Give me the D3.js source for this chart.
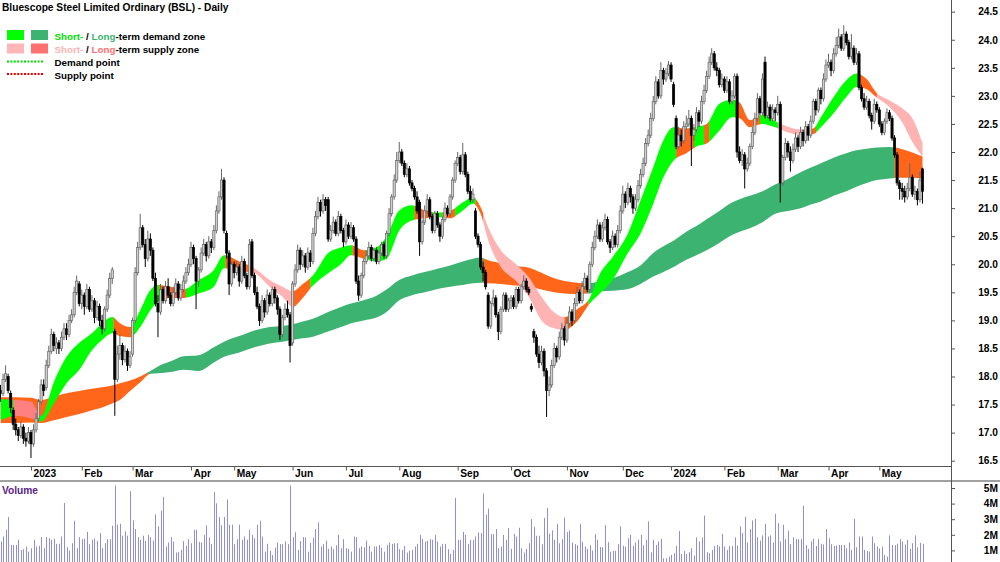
<!DOCTYPE html>
<html><head><meta charset="utf-8">
<script src="https://cdn.jsdelivr.net/npm/d3@7"></script>
<style>
html,body{margin:0;padding:0;background:#fff;}
svg{display:block;font-family:"Liberation Sans",Arial,sans-serif;}
</style></head><body>
<svg id="c" width="1000" height="562"></svg>
<script>
// ---------- DATA ----------
const title = "Bluescope Steel Limited Ordinary (BSL) - Daily";
// month tick labels and the trading-day index where each month starts
const tickLabels = ["2023","Feb","Mar","Apr","May","Jun","Jul","Aug","Sep","Oct","Nov","Dec","2024","Feb","Mar","Apr","May"];
const tickIndex  = [12,32,52,75,92,115,136,157,180,201,223,245,264,285,306,326,346];
const priceTicks = [16.5,17,17.5,18,18.5,19,19.5,20,20.5,21,21.5,22,22.5,23,23.5,24,24.5];
const volTicks = [1,2,3,4,5]; // millions

const open=[
17.75,17.70,17.95,18.00,17.70,17.40,17.15,17.05,16.95,17.10,
16.90,16.85,17.00,16.80,17.05,17.25,17.55,17.85,17.80,18.20,
18.45,18.75,18.50,18.60,18.50,18.70,18.85,18.75,19.00,19.10,
19.50,19.65,19.30,19.45,19.25,19.55,19.20,19.35,19.05,19.25,
19.00,18.85,19.20,19.45,19.75,18.80,17.95,18.40,18.55,18.30,
18.45,18.20,18.40,19.00,19.85,20.30,20.65,20.35,20.10,20.45,
20.25,19.75,19.30,19.15,19.55,19.35,19.60,19.45,19.30,19.50,
19.65,19.40,19.55,19.70,19.85,20.00,20.30,20.10,19.70,19.90,
20.20,20.35,20.15,20.40,20.30,20.60,20.95,21.20,21.50,20.55,
20.20,19.65,20.00,19.85,19.95,19.70,20.05,19.80,19.60,20.40,
19.80,19.50,19.25,19.00,19.35,19.15,19.45,19.30,19.55,19.40,
19.20,18.75,19.05,19.20,19.10,18.60,19.65,19.90,20.25,20.00,
20.15,19.95,20.20,20.05,20.55,20.85,21.10,20.95,21.15,21.15,
20.45,20.60,20.75,20.55,20.85,20.60,20.40,20.70,20.50,20.65,
20.45,19.70,19.45,19.80,20.05,20.15,20.30,20.10,20.25,20.05,
20.20,20.35,20.15,20.55,20.90,21.20,21.50,21.85,22.00,21.80,
21.60,21.70,21.45,21.35,21.20,21.10,20.40,20.75,20.95,21.15,
20.85,20.60,20.90,20.70,20.50,20.80,21.00,20.90,21.20,21.50,
21.80,21.90,21.65,21.95,21.60,21.30,21.15,20.95,20.50,20.35,
19.95,19.85,19.45,18.90,19.30,19.40,19.10,18.80,19.20,19.45,
19.20,19.35,19.40,19.25,19.55,19.35,19.60,19.70,19.55,19.25,
18.80,18.70,18.40,18.25,18.45,18.10,17.75,17.85,18.20,18.50,
18.35,18.70,18.85,18.65,18.95,19.15,19.00,19.30,19.50,19.35,
19.60,19.75,19.55,20.00,20.30,20.50,20.70,20.45,20.65,20.80,
20.40,20.30,20.50,20.35,20.60,20.95,21.25,21.10,21.35,21.20,
21.00,21.15,21.40,21.60,21.80,22.15,22.30,22.60,22.90,23.25,
23.00,23.45,23.30,23.40,23.55,23.20,22.60,22.10,22.30,22.20,
22.45,22.50,22.60,22.30,22.40,22.70,22.55,22.90,23.10,23.35,
23.60,23.75,23.50,23.45,23.20,23.30,23.10,23.25,22.90,23.00,
23.35,22.00,21.85,21.95,21.70,21.80,22.10,22.35,22.60,22.95,
22.70,23.60,22.65,22.80,22.60,22.75,22.70,22.85,21.45,21.90,
22.15,22.00,21.85,22.05,22.25,22.10,22.35,22.20,22.45,22.30,
22.55,22.90,22.75,23.10,22.95,23.30,23.55,23.60,23.45,23.75,
23.90,24.05,23.85,24.10,23.95,23.70,23.85,23.60,23.75,23.15,
22.95,22.80,22.90,22.65,22.55,22.85,22.75,22.50,22.35,22.55,
22.70,22.60,22.25,21.95,21.45,21.35,21.30,21.20,21.35,21.55,
21.25,21.30,21.15,21.70];
const high=[
17.85,18.05,18.20,18.05,17.75,17.45,17.25,17.10,17.20,17.15,
17.00,17.10,17.05,17.15,17.35,17.60,17.95,17.95,18.30,18.55,
18.85,18.80,18.70,18.65,18.80,18.95,18.95,19.10,19.20,19.60,
19.80,19.70,19.55,19.50,19.65,19.60,19.45,19.40,19.35,19.30,
19.10,19.25,19.55,19.85,19.95,18.85,18.55,18.75,18.60,18.55,
18.50,18.45,19.05,19.95,20.40,20.90,20.70,20.45,20.60,20.55,
20.30,19.85,19.45,19.65,19.60,19.70,19.75,19.50,19.60,19.75,
19.70,19.65,19.80,19.95,20.10,20.40,20.35,20.15,19.95,20.30,
20.45,20.40,20.50,20.45,20.70,21.05,21.30,21.70,21.55,20.60,
20.25,20.05,20.05,20.05,20.00,20.15,20.10,19.85,20.45,20.45,
19.85,19.60,19.30,19.45,19.40,19.55,19.50,19.60,19.60,19.45,
19.25,19.10,19.30,19.35,19.15,19.70,20.00,20.35,20.30,20.25,
20.20,20.30,20.25,20.65,20.95,21.20,21.15,21.25,21.20,21.20,
20.70,20.85,20.80,20.95,20.90,20.65,20.80,20.75,20.75,20.70,
20.50,19.80,19.85,20.10,20.25,20.40,20.35,20.30,20.30,20.25,
20.40,20.40,20.60,21.00,21.25,21.60,22.00,22.18,22.05,21.85,
21.80,21.75,21.50,21.40,21.30,21.15,20.80,21.05,21.25,21.20,
20.90,20.95,20.95,20.75,20.85,21.10,21.05,21.25,21.55,21.85,
22.00,21.95,22.16,22.00,21.65,21.40,21.35,21.00,20.55,20.40,
20.05,19.90,19.50,19.35,19.55,19.45,19.15,19.25,19.50,19.50,
19.40,19.45,19.45,19.60,19.60,19.65,19.80,19.75,19.60,19.30,
18.85,18.75,18.55,18.55,18.50,18.15,18.00,18.30,18.60,18.55,
18.80,18.95,18.90,19.05,19.25,19.20,19.40,19.60,19.55,19.70,
19.85,19.80,20.05,20.40,20.60,20.80,20.75,20.75,20.90,20.85,
20.45,20.60,20.55,20.70,21.05,21.40,21.30,21.45,21.40,21.25,
21.25,21.50,21.70,21.90,22.25,22.40,22.70,23.00,23.35,23.30,
23.60,23.50,23.50,23.62,23.60,23.25,22.65,22.45,22.40,22.55,
22.65,22.75,22.65,22.50,22.80,22.75,23.00,23.20,23.45,23.70,
23.85,23.80,23.60,23.50,23.40,23.35,23.35,23.30,23.10,23.40,
23.40,22.10,22.05,22.00,21.90,22.15,22.45,22.70,23.05,23.00,
23.40,23.70,22.90,22.85,22.85,22.80,23.00,22.90,21.95,22.25,
22.20,22.10,22.15,22.35,22.30,22.45,22.40,22.55,22.50,22.65,
22.95,22.95,23.15,23.15,23.40,23.65,23.75,23.65,23.85,24.05,
24.20,24.10,24.26,24.15,24.00,24.10,23.90,23.85,23.80,23.20,
23.05,23.00,22.95,22.70,22.95,22.90,22.80,22.55,22.60,22.78,
22.75,22.65,22.30,22.00,21.50,21.45,21.40,21.45,21.80,21.60,
21.40,21.35,21.65,21.72];
const low=[
17.55,17.65,17.90,17.70,17.35,17.05,16.95,16.85,16.90,16.80,
16.75,16.80,16.55,16.75,17.00,17.20,17.50,17.65,17.75,18.15,
18.40,18.45,18.40,18.40,18.45,18.65,18.65,18.70,18.95,19.05,
19.45,19.25,19.20,19.10,19.20,19.15,19.15,18.95,19.00,18.90,
18.75,18.80,19.15,19.40,19.65,17.30,17.90,18.30,18.20,18.25,
18.10,18.15,18.35,18.95,19.80,20.25,20.30,19.95,20.05,20.15,
19.70,19.25,18.70,19.10,19.30,19.30,19.40,19.25,19.25,19.45,
19.35,19.35,19.50,19.65,19.80,19.95,20.00,19.20,19.60,19.85,
20.15,20.05,20.10,20.20,20.25,20.55,20.90,21.15,20.55,20.10,
19.45,19.60,19.75,19.80,19.60,19.65,19.75,19.55,19.55,19.75,
19.45,19.20,18.90,18.95,19.05,19.10,19.25,19.25,19.30,19.10,
18.65,18.70,19.00,19.05,18.25,18.55,19.60,19.85,19.90,19.95,
19.85,19.90,19.95,20.00,20.50,20.80,20.85,20.90,20.95,20.40,
20.40,20.55,20.50,20.50,20.55,20.30,20.35,20.45,20.45,20.40,
19.65,19.35,19.40,19.75,20.00,20.10,20.05,20.05,20.00,20.00,
20.15,20.10,20.10,20.50,20.85,21.15,21.45,21.80,21.75,21.55,
21.55,21.40,21.30,21.15,20.90,20.15,20.35,20.70,20.90,20.80,
20.55,20.55,20.65,20.40,20.45,20.75,20.85,20.85,21.15,21.45,
21.75,21.60,21.60,21.55,21.25,21.10,21.10,20.45,20.30,19.90,
19.70,19.55,18.85,18.85,19.25,19.05,18.65,18.75,19.15,19.15,
19.15,19.20,19.20,19.20,19.30,19.30,19.55,19.50,19.45,19.15,
18.60,18.35,18.15,18.20,18.00,17.28,17.65,17.80,18.15,18.25,
18.30,18.65,18.55,18.60,18.90,18.90,18.95,19.25,19.30,19.30,
19.55,19.50,19.50,19.95,20.25,20.45,20.40,20.40,20.60,20.35,
20.20,20.25,20.30,20.30,20.55,20.90,21.00,21.05,21.10,20.90,
20.95,21.10,21.35,21.55,21.75,22.10,22.25,22.55,22.85,22.95,
22.95,23.20,23.25,23.35,23.25,22.80,22.05,22.05,22.10,22.15,
22.40,22.45,21.75,22.20,22.35,22.45,22.50,22.85,23.05,23.30,
23.55,23.45,23.35,23.15,23.15,23.05,23.05,22.85,22.85,22.95,
21.90,21.80,21.75,21.35,21.65,21.75,22.05,22.30,22.55,22.65,
22.65,22.60,22.60,22.55,22.55,22.55,22.65,21.10,21.40,21.85,
21.90,21.65,21.80,22.00,22.00,22.05,22.10,22.15,22.20,22.25,
22.50,22.65,22.70,22.85,22.90,23.25,23.50,23.35,23.40,23.70,
23.85,23.80,23.80,23.90,23.65,23.65,23.55,23.55,23.10,22.90,
22.75,22.75,22.60,22.40,22.50,22.70,22.45,22.30,22.30,22.50,
22.55,22.20,21.90,21.40,21.15,21.15,21.10,21.15,21.30,21.20,
21.15,21.05,21.10,21.08];
const close=[
17.70,17.95,18.05,17.75,17.45,17.15,17.05,16.95,17.10,16.90,
16.85,17.00,16.80,17.05,17.25,17.55,17.85,17.75,18.20,18.45,
18.75,18.55,18.60,18.50,18.70,18.85,18.75,19.00,19.10,19.50,
19.70,19.30,19.45,19.25,19.55,19.20,19.35,19.05,19.25,19.00,
18.85,19.20,19.45,19.75,19.90,17.95,18.40,18.55,18.30,18.45,
18.20,18.35,19.00,19.85,20.30,20.65,20.35,20.10,20.45,20.25,
19.75,19.30,19.15,19.55,19.35,19.60,19.45,19.30,19.50,19.65,
19.40,19.55,19.70,19.85,20.00,20.30,20.10,19.70,19.90,20.20,
20.35,20.15,20.40,20.30,20.60,20.95,21.20,21.50,20.60,20.20,
19.65,20.00,19.85,19.95,19.70,20.05,19.80,19.60,20.35,19.80,
19.50,19.25,19.00,19.35,19.15,19.45,19.30,19.55,19.40,19.20,
18.75,19.05,19.20,19.10,18.55,19.65,19.90,20.25,20.00,20.15,
19.95,20.20,20.05,20.55,20.85,21.10,20.95,21.15,21.05,20.45,
20.60,20.75,20.55,20.85,20.60,20.40,20.70,20.50,20.65,20.45,
19.70,19.45,19.80,20.05,20.15,20.30,20.10,20.25,20.05,20.20,
20.35,20.15,20.55,20.90,21.20,21.50,21.85,22.00,21.80,21.60,
21.70,21.45,21.35,21.20,20.95,20.40,20.75,20.95,21.15,20.85,
20.60,20.90,20.70,20.50,20.80,21.00,20.90,21.20,21.50,21.80,
21.90,21.65,21.95,21.60,21.30,21.15,21.25,20.50,20.35,19.95,
19.85,19.60,18.90,19.30,19.40,19.10,18.80,19.20,19.45,19.20,
19.35,19.40,19.25,19.55,19.35,19.60,19.70,19.55,19.50,19.20,
18.70,18.40,18.25,18.45,18.10,17.75,17.85,18.20,18.50,18.35,
18.70,18.85,18.65,18.95,19.15,19.00,19.30,19.50,19.35,19.60,
19.75,19.55,20.00,20.30,20.50,20.70,20.45,20.65,20.80,20.40,
20.30,20.50,20.35,20.60,20.95,21.25,21.10,21.35,21.20,21.00,
21.15,21.40,21.60,21.80,22.15,22.30,22.60,22.90,23.25,23.00,
23.45,23.30,23.40,23.55,23.30,22.85,22.10,22.30,22.20,22.45,
22.50,22.60,22.30,22.40,22.70,22.55,22.90,23.10,23.35,23.60,
23.75,23.50,23.45,23.20,23.30,23.10,23.25,22.90,23.00,23.35,
22.00,21.85,21.95,21.70,21.80,22.10,22.35,22.60,22.95,22.70,
23.30,22.65,22.80,22.60,22.75,22.70,22.85,21.45,21.90,22.15,
22.00,21.85,22.05,22.25,22.10,22.35,22.20,22.45,22.30,22.55,
22.90,22.75,23.10,22.95,23.30,23.55,23.60,23.45,23.75,23.90,
24.05,23.85,24.10,23.95,23.70,23.85,23.60,23.75,23.15,22.95,
22.80,22.90,22.65,22.55,22.85,22.75,22.50,22.35,22.55,22.70,
22.60,22.25,21.95,21.45,21.35,21.30,21.20,21.35,21.55,21.25,
21.30,21.15,21.50,21.30];
// volume in millions of shares
const volume=[
1.57,1.89,2.32,3.14,1.35,1.35,1.35,1.68,1.03,1.08,
1.25,0.92,1.14,1.68,1.25,1.29,1.85,1.14,1.85,1.78,
1.68,1.74,1.42,1.42,1.89,4.04,1.20,0.99,1.46,2.90,
1.14,1.85,1.72,1.76,2.19,1.40,1.68,1.76,1.61,2.11,
1.14,1.46,1.72,1.72,2.58,5.16,2.65,2.71,1.94,2.22,
1.94,4.80,2.92,2.37,1.85,1.68,1.94,1.61,2.00,1.85,
1.63,3.31,2.54,3.55,4.43,1.25,1.51,1.85,1.57,0.86,
0.88,1.03,1.59,1.29,1.72,1.46,2.32,2.32,1.55,1.51,
2.00,2.60,1.83,1.42,4.74,4.02,3.14,2.62,3.14,4.26,
2.65,2.65,1.40,1.72,2.65,1.68,1.89,1.68,2.32,2.00,
1.78,2.65,2.90,1.89,0.92,1.42,0.97,0.71,1.18,1.51,
1.40,1.40,1.57,1.40,5.16,1.85,2.17,1.03,1.59,1.85,
1.83,0.92,1.48,1.81,2.37,2.80,1.25,1.40,1.63,1.10,
1.25,1.08,1.33,2.00,1.14,1.72,1.14,1.10,0.92,1.89,
1.85,1.14,1.25,1.20,1.63,1.29,0.92,1.25,1.25,1.35,
1.18,0.92,1.35,1.51,1.42,1.46,1.46,1.08,1.03,1.29,
0.86,0.99,1.03,1.25,1.42,2.00,1.72,1.57,1.63,1.72,
1.68,2.00,1.57,1.25,1.42,1.42,1.08,0.77,1.03,4.37,
1.68,1.68,2.19,2.00,1.42,1.68,1.68,1.89,2.15,2.11,
4.65,3.29,3.68,2.04,2.04,2.37,1.14,
1.25,2.00,1.68,2.43,1.10,2.06,1.89,2.45,1.14,0.86,
1.08,1.46,3.01,2.49,1.94,1.94,1.40,3.08,3.72,2.06,
2.28,1.68,2.69,1.46,1.72,3.10,2.17,2.28,1.51,1.40,
1.33,2.69,1.55,1.25,1.08,1.33,0.99,2.04,1.68,1.22,
1.20,2.62,1.53,0.92,0.97,0.97,1.40,2.54,1.29,1.25,
1.78,2.00,1.29,1.51,1.68,2.00,1.33,1.68,2.86,0.88,
1.68,1.35,1.57,1.74,0.49,0.49,0.60,0.71,0.82,1.29,
2.24,0.77,0.97,0.77,0.88,1.14,0.67,1.83,1.57,1.83,
3.23,0.88,0.82,1.03,1.29,1.35,1.25,2.06,1.25,1.03,
1.29,1.29,1.83,1.31,2.54,2.11,3.16,1.51,2.37,2.92,
3.03,1.85,1.63,1.96,2.71,1.89,1.96,1.51,3.34,2.75,
1.57,2.65,1.72,2.26,1.40,1.83,1.72,1.72,1.72,3.87,
1.35,1.10,1.57,1.74,1.29,1.72,1.42,1.38,2.37,1.78,
1.40,1.29,1.31,1.35,1.35,1.35,1.14,1.51,1.03,3.03,
1.20,1.89,1.89,1.03,0.97,0.92,1.89,1.46,1.25,1.12,
1.25,0.71,0.60,1.96,1.35,1.33,1.42,1.72,1.57,1.38,
1.68,1.10,1.46,1.96,1.20,1.48,1.42];

// zone bands, sampled at these trading-day indices
const bandIdx=[0,6,12,16,21,26,31,36,40,44,47,51,55,59,62,67,72,78,84,88,94,100,106,111,115,119,123,129,134,138,143,148,152,157,162,167,172,177,182,186,189,192,197,203,208,213,218,222,227,232,236,241,247,252,257,261,265,270,274,278,283,288,291,295,300,305,310,315,320,323,328,333,337,341,345,350,355,359,363];
const shortUpper=[17.60,17.58,17.55,17.30,17.90,18.35,18.60,18.77,18.95,19.06,
18.95,18.88,19.18,19.54,19.63,19.60,19.55,19.72,19.90,20.16,
20.05,19.93,19.72,19.60,19.52,19.65,19.80,20.20,20.30,20.34,
20.25,20.30,20.50,20.96,21.05,20.96,20.92,20.95,21.10,21.20,
21.02,20.66,20.25,20.00,19.77,19.42,19.14,19.06,19.20,19.40,
19.83,20.13,20.55,21.14,21.73,22.21,22.44,22.42,22.45,22.50,
22.86,22.93,22.88,22.57,22.66,22.55,22.45,22.40,22.42,22.62,
22.98,23.28,23.40,23.30,23.05,22.92,22.78,22.60,22.16];
const shortLower=[17.22,17.30,17.25,17.20,17.52,17.88,18.12,18.47,18.65,18.77,
18.72,18.70,18.88,19.18,19.33,19.40,19.40,19.48,19.60,19.93,
19.88,19.84,19.60,19.42,19.24,19.40,19.62,19.84,20.00,20.16,
20.10,20.05,20.10,20.60,20.78,20.82,20.84,20.82,20.96,21.08,
20.90,20.43,19.95,19.70,19.42,19.00,18.86,18.83,18.98,19.30,
19.48,19.72,20.20,20.55,21.08,21.55,21.85,21.98,22.10,22.15,
22.38,22.62,22.60,22.44,22.50,22.44,22.35,22.30,22.32,22.44,
22.69,22.98,23.16,23.12,22.97,22.80,22.53,22.18,21.92];
const longUpper=[17.63,17.63,17.62,17.58,17.64,17.70,17.74,17.78,17.81,17.84,
17.88,17.93,18.00,18.10,18.18,18.27,18.36,18.38,18.52,18.62,
18.72,18.82,18.88,18.90,18.93,18.98,19.03,19.15,19.24,19.30,
19.36,19.44,19.55,19.72,19.80,19.86,19.92,19.98,20.05,20.10,
20.12,20.07,20.02,19.97,19.94,19.85,19.75,19.70,19.67,19.66,
19.70,19.75,19.86,19.98,20.20,20.32,20.42,20.58,20.68,20.80,
20.95,21.10,21.16,21.22,21.30,21.42,21.52,21.64,21.74,21.80,
21.90,21.98,22.03,22.06,22.08,22.09,22.05,21.99,21.92];
const longLower=[17.17,17.17,17.18,17.17,17.22,17.28,17.33,17.40,17.45,17.52,
17.58,17.74,17.90,18.05,18.06,18.08,18.12,18.10,18.25,18.35,
18.43,18.52,18.59,18.62,18.65,18.68,18.71,18.80,18.88,18.95,
19.00,19.05,19.15,19.36,19.45,19.50,19.56,19.60,19.63,19.66,
19.67,19.66,19.65,19.62,19.60,19.55,19.50,19.48,19.47,19.48,
19.52,19.53,19.56,19.65,19.78,19.86,19.95,20.08,20.16,20.25,
20.38,20.52,20.58,20.64,20.75,20.90,20.95,21.00,21.08,21.12,
21.22,21.30,21.38,21.45,21.50,21.53,21.54,21.54,21.53];

// zone state along each band: [from index, to index, state]
const shortFrom =[0,5,15,44.5,51.5,62.5,73,88.5,99,115.5,122,138.5,144,163,170,174,179,187,190,222,231.5,266,273,277,279,289.5,299,306,318,321,337.5,345];
const shortTo   =[5,15,44.5,51.5,62.5,73,88.5,99,115.5,122,138.5,144,163,170,174,179,187,190,222,231.5,266,273,277,279,289.5,299,306,318,321,337.5,345,364];
const shortState=["demand","supplyL","demand","turn","demand","turn","demand","turn","supply","turn","demand","turn","demand","turn","demand","turn","demand","turn","supply","turn","demand","turn","demand","turn","demand","turn","demand","supply","turn","demand","turn","supply"];
const longFrom =[0,58,190,231,352];
const longTo   =[58,190,231,352,364];
const longState=["turn","demandL","turn","demandL","turn"];

// ---------- DRAW ----------
const colors={demand:"#00ff00",demandL:"#3cb371",supply:"#ffb3b3",supplyL:"#ff8080",turn:"#ff661a"};
const svg=d3.select("#c");
const n=Math.min(open.length,high.length,low.length,close.length);
const x=d3.scaleLinear().domain([0,363]).range([0.5,922.5]);
const y=d3.scaleLinear().domain([16.5,24.5]).range([460.7,11.7]);
const yv=d3.scaleLinear().domain([0,5]).range([566,488]);
const defs=svg.append("defs");

function band(upper,lower,from,to,state,tag){
  const pts=bandIdx.map((d,k)=>({i:d,hi:upper[k],lo:lower[k]}));
  const area=d3.area().x(d=>x(d.i)).y0(d=>y(d.lo)).y1(d=>y(d.hi)).curve(d3.curveMonotoneX);
  const g=svg.append("g");
  from.forEach((a,k)=>{
    const id=tag+k;
    defs.append("clipPath").attr("id",id).append("rect")
      .attr("x",x(a)).attr("y",0).attr("width",Math.max(0,x(to[k])-x(a))+0.3).attr("height",466);
    g.append("path").attr("d",area(pts)).attr("fill",colors[state[k]]).attr("clip-path",`url(#${id})`);
  });
}
band(longUpper,longLower,longFrom,longTo,longState,"lc");
band(shortUpper,shortLower,shortFrom,shortTo,shortState,"sc");

// candles
const cg=svg.append("g");
for(let i=0;i<n;i++){
  const up=close[i]>=open[i];
  const cx=x(i);
  cg.append("line").attr("x1",cx).attr("x2",cx).attr("y1",y(high[i])).attr("y2",y(low[i]))
    .attr("stroke",up?"#666":"#000").attr("stroke-width",1);
  const top=y(Math.max(open[i],close[i])), bot=y(Math.min(open[i],close[i]));
  cg.append("rect").attr("x",cx-1.1).attr("width",2.2).attr("y",top).attr("height",Math.max(0.8,bot-top))
    .attr("fill",up?"#cfcfcf":"#000").attr("stroke",up?"#666":"#000").attr("stroke-width",0.7);
}

// volume
const vg=svg.append("g");
volume.forEach((v,i)=>{
  const vx=Math.round(x(i))+0.5;
  vg.append("line").attr("x1",vx).attr("x2",vx).attr("y1",yv(v)).attr("y2",562)
    .attr("stroke","#8f8fdc").attr("stroke-width",1);
});

// frame lines
svg.append("line").attr("x1",0).attr("x2",952).attr("y1",466.5).attr("y2",466.5).attr("stroke","#555");
svg.append("line").attr("x1",0).attr("x2",1000).attr("y1",481).attr("y2",481).attr("stroke","#a0a0a0").attr("stroke-width",2);
svg.append("line").attr("x1",951.5).attr("x2",951.5).attr("y1",0).attr("y2",562).attr("stroke","#555");

const fontCss="font-weight:bold;font-size:10.2px;fill:#000;font-family:'Liberation Sans',Arial,sans-serif";
const legCss="font-weight:bold;font-size:9.8px;fill:#000;font-family:'Liberation Sans',Arial,sans-serif";
const titleCss="font-weight:bold;font-size:10.2px;fill:#000;font-family:'Liberation Sans',Arial,sans-serif";
// price axis
const pa=svg.append("g").attr("transform","translate(952,0)")
  .call(d3.axisRight(y).tickValues(priceTicks).tickSize(3).tickFormat(d3.format(".1f")));
pa.select(".domain").remove();
pa.selectAll(".tick line").attr("stroke","#555");
pa.selectAll(".tick text").attr("x",46).attr("text-anchor","end").attr("style",fontCss);
// volume axis
const va=svg.append("g").attr("transform","translate(952,0)")
  .call(d3.axisRight(yv).tickValues(volTicks).tickSize(3).tickFormat(d=>d+"M"));
va.select(".domain").remove();
va.selectAll(".tick line").attr("stroke","#555");
va.selectAll(".tick text").attr("x",46).attr("text-anchor","end").attr("style",fontCss);
// time axis
const ta=svg.append("g").attr("transform","translate(0,466.5)")
  .call(d3.axisBottom(x).tickValues(tickIndex).tickSize(4).tickFormat((d,k)=>tickLabels[k]));
ta.select(".domain").remove();
ta.selectAll(".tick line").attr("stroke","#555");
ta.selectAll(".tick text").attr("x",2).attr("y",3).attr("dy","0.71em").attr("text-anchor","start").attr("style",fontCss);

// title
svg.append("text").attr("x",2).attr("y",10.5).attr("style",titleCss).text(title);
// volume label
svg.append("text").attr("x",2).attr("y",494).attr("style",fontCss.replace("fill:#000","fill:#5a1e8c")).text("Volume");

// legend
const lg=svg.append("g");
lg.append("rect").attr("x",7).attr("y",30).attr("width",17).attr("height",10).attr("fill",colors.demand);
lg.append("rect").attr("x",31).attr("y",30).attr("width",17).attr("height",10).attr("fill",colors.demandL);
lg.append("rect").attr("x",7).attr("y",43.5).attr("width",17).attr("height",10).attr("fill","#ffb6b6");
lg.append("rect").attr("x",31).attr("y",43.5).attr("width",17).attr("height",10).attr("fill","#ff7070");
lg.append("line").attr("x1",7).attr("x2",44).attr("y1",61.5).attr("y2",61.5).attr("stroke","#00dd00").attr("stroke-width",2.2).attr("stroke-dasharray","2,1.4");
lg.append("line").attr("x1",7).attr("x2",44).attr("y1",74).attr("y2",74).attr("stroke","#ee0000").attr("stroke-width",2.2).attr("stroke-dasharray","2,1.4");
function legText(yy,parts){
  const t=lg.append("text").attr("x",54.5).attr("y",yy).attr("style",legCss);
  parts.forEach(p=>t.append("tspan").attr("fill",p[1]).text(p[0]));
}
legText(39.5,[["Short-","#00e000"],[" / ","#000"],["Long","#3cb371"],["-term demand zone","#000"]]);
legText(52.8,[["Short-","#ffb3b3"],[" / ","#000"],["Long","#ff7070"],["-term supply zone","#000"]]);
legText(66,[["Demand point","#000"]]);
legText(78.5,[["Supply point","#000"]]);
</script>
</body></html>
